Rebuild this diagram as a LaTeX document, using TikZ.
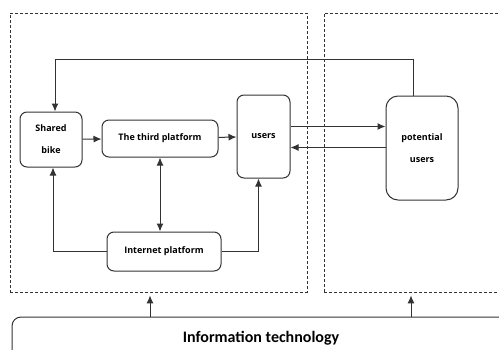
\documentclass[tikz,border=0pt]{standalone}
\usepackage{fontspec}
\setmainfont{Open Sans}
\newfontfamily\calfont{Carlito}
\usetikzlibrary{arrows.meta}

\begin{document}
\begin{tikzpicture}[x=1pt,y=-1pt,
    box/.style={draw=black!80, line width=1pt, rounded corners=7pt, inner sep=0pt,
        align=center, font=\fontsize{9}{11}\selectfont\bfseries},
    zone/.style={draw=black!80, line width=0.8pt, dash pattern=on 3pt off 2pt, inner sep=0pt},
    link/.style={draw=black!80, line width=1pt, -{Latex[length=8pt,width=7pt]}},
    both/.style={link, {Latex[length=8pt,width=7pt]}-{Latex[length=8pt,width=7pt]}}]
    \useasboundingbox (0,0) rectangle (499,349);
    \clip (0,0) rectangle (499,349);

% dashed areas
    \node[zone, minimum width=297pt, minimum height=279pt] (system) at (158.5,152.5) {};
    \node[zone, minimum width=190pt, minimum height=279pt] (market) at (419,152.5) {};
    % information technology
    \node[box, rounded corners=9pt, minimum width=498pt, minimum height=44pt,
        font=\calfont\fontsize{16}{18}\selectfont\bfseries] (info) at (261,339) {\raisebox{4pt}{Information technology}};

    % boxes
    \node[box, minimum width=62pt, minimum height=55pt] (bike) at (51,139.5) {Shared\\[11pt]bike};
    \node[box, minimum width=116pt, minimum height=37pt] (third) at (160,138.5) {The third platform};
    \node[box, minimum width=53pt, minimum height=83pt] (users) at (263.5,136.5) {users};
    \node[box, rounded corners=12pt, minimum width=72pt, minimum height=104pt] (pot) at (422,148) {potential\\[11pt]users};
    \node[box, minimum width=114pt, minimum height=39pt] (inet) at (164,251.5) {Internet platform};

    % connectors
    \draw[link] (pot.north -| 413,0) -- ++(0,-36) -| ([xshift=4pt]bike.north);
    \draw[link] (bike) -- (third);
    \draw[link] (third) -- (users);
    \draw[both] (third.south) -- (third.south |- inet.north);
    \draw[link] (inet.west) -| ([xshift=2pt]bike.south);
    \draw[link] (inet.east) -| ([xshift=-5pt]users.south);
    \draw[link] ([yshift=10pt]users.east) -- ([yshift=10pt]users.east -| pot.west);
    \draw[link] ([yshift=-11pt]pot.west |- users.east) -- ([yshift=-11pt]users.east);

    % support
    \coordinate (sup1) at (150,317);
    \coordinate (sup2) at (411,317);
    \draw[link, shorten >=3pt] (sup1) -- (sup1 |- system.south);
    \draw[link, shorten >=3pt] (sup2) -- (sup2 |- market.south);
\end{tikzpicture}
\end{document}
